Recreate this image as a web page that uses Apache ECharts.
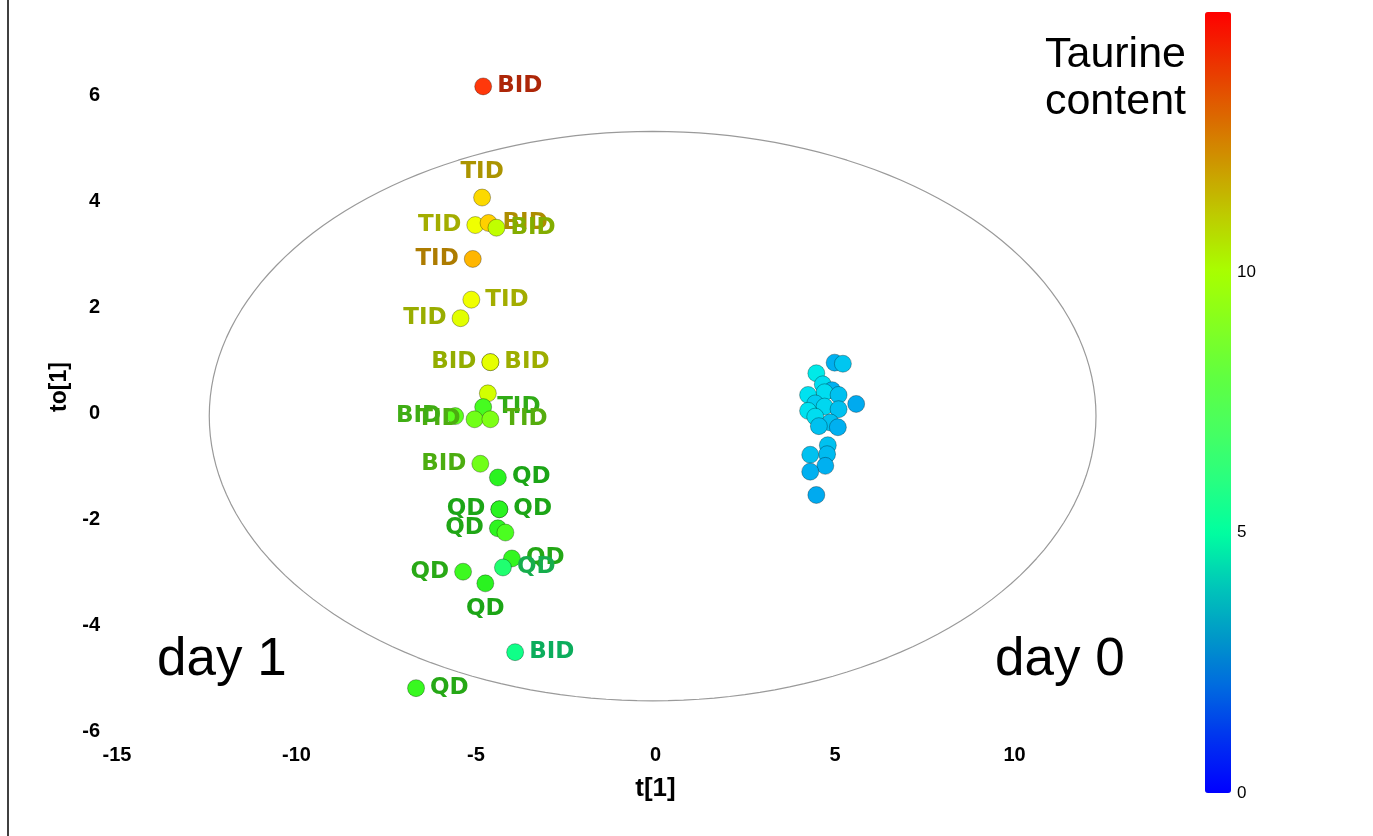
<!DOCTYPE html>
<html>
<head>
<meta charset="utf-8">
<script src="https://cdn.jsdelivr.net/npm/echarts@6/dist/echarts.min.js"></script>
<style>
html,body{margin:0;padding:0;background:#fff;}
#chart{width:1373px;height:836px;}
</style>
</head>
<body>
<div id="chart"></div>
<script>
// ---- data ----
const tX = [-4.80, -4.83, -5.02, -4.65, -4.43, -5.09, -5.13, -5.43, -4.60, -4.60,
  -4.67, -4.80, -5.04, -4.60, -5.58, -4.88, -4.39, -4.35, -4.35, -4.39,
  -4.18, -4.00, -4.25, -5.36, -4.74, -3.91, -6.67,
  4.99, 5.22, 4.48, 4.66, 4.92, 4.71, 4.25, 5.10, 5.59, 4.45,
  4.71, 5.10, 4.25, 4.45, 4.87, 5.08, 4.55, 4.80, 4.78, 4.31,
  4.73, 4.31, 4.48];
const toY = [6.18, 4.08, 3.56, 3.60, 3.51, 2.92, 2.15, 1.80, 0.97, 0.97,
  0.38, 0.12, -0.11, -0.11, -0.05, -0.95, -1.21, -1.81, -1.81, -2.17,
  -2.25, -2.74, -2.91, -2.99, -3.21, -4.51, -5.19,
  0.96, 0.94, 0.76, 0.55, 0.44, 0.40, 0.35, 0.35, 0.18, 0.19,
  0.13, 0.08, 0.05, -0.06, -0.17, -0.26, -0.24, -0.60, -0.77, -0.78,
  -0.99, -1.10, -1.54];
const taurine = [14.3, 11.8, 11.0, 12.0, 10.0, 12.4, 11.0, 10.7, 10.5, 10.8,
  10.4, 7.8, 8.5, 8.7, 8.2, 8.5, 7.2, 7.2, 7.2, 7.3,
  7.9, 7.4, 6.0, 7.6, 7.2, 5.5, 7.5,
  3.0, 3.4, 4.1, 3.8, 3.0, 3.8, 3.9, 3.3, 2.9, 3.5,
  3.7, 3.3, 3.9, 3.8, 3.3, 3.0, 3.3, 3.3, 3.2, 3.3,
  3.0, 3.0, 2.9];
const sampleLabels = ['BID', 'TID', 'TID', 'BID', 'BID', 'TID', 'TID', 'TID', 'BID', 'BID',
  '', 'TID', 'TID', 'TID', 'BID', 'BID', 'QD', 'QD', 'QD', 'QD',
  '', 'QD', 'QD', 'QD', 'QD', 'BID', 'QD'];
// label placement (style)
const labelSide = ['right', 'top', 'left', 'right', 'right', 'left', 'right', 'left', 'left', 'right',
  'right', 'right', 'left', 'right', 'left', 'left', 'right', 'left', 'right', 'left',
  'right', 'right', 'right', 'left', 'bottom', 'right', 'right'];
const xTicks = { min: -15, max: 15, interval: 5 };
const yTicks = { min: -6, max: 7, interval: 2 };
const colorbarTicks = { min: 0, max: 15, interval: 5 };
const ellipseAxes = [12.35, 5.38];
const ellipseCenter = [-0.08, -0.05];

// ---- styles ----
const pointRamp = ['#0000ff', '#0040f0', '#0078e8', '#00b0f0', '#00e8f0', '#00ffa0', '#20ff70', '#20f020',
  '#50ff20', '#90ff10', '#c0ff00', '#f0ff00', '#ffd000', '#ff9000', '#ff5010', '#ff0000'];
const barRamp = ['#0000ff', '#0030f0', '#0068e0', '#0098c8', '#00c8b8', '#00ffa0', '#28ff80', '#48ff60',
  '#60ff40', '#84ff20', '#a8ff00', '#bcd000', '#cc9c00', '#dc6800', '#ec3400', '#ff0000'];

function hexToRgb(h) { return [parseInt(h.substr(1,2),16), parseInt(h.substr(3,2),16), parseInt(h.substr(5,2),16)]; }
function rampColor(v, ramp, lo, hi, k) {
  const p = Math.max(0, Math.min(1, (v - lo) / (hi - lo))) * (ramp.length - 1);
  const i = Math.min(ramp.length - 2, Math.floor(p)), f = p - i;
  const a = hexToRgb(ramp[i]), b = hexToRgb(ramp[i + 1]);
  const c = a.map((x, j) => Math.round((x + (b[j] - x) * f) * k));
  return 'rgb(' + c.join(',') + ')';
}

const scatterData = tX.map((x, i) => {
  const lab = sampleLabels[i] || '';
  const item = { value: [x, toY[i], taurine[i]] };
  if (lab) {
    item.label = {
      show: true, formatter: lab, position: labelSide[i], distance: 5,
      color: rampColor(taurine[i], pointRamp, 0, 15, 0.68)
    };
  }
  return item;
});

const ellipse = [];
for (let d = 0; d <= 360; d += 2) {
  const r = d * Math.PI / 180;
  ellipse.push([ellipseCenter[0] + ellipseAxes[0] * Math.cos(r), ellipseCenter[1] + ellipseAxes[1] * Math.sin(r)]);
}

const chart = echarts.init(document.getElementById('chart'), null, { renderer: 'canvas' });
const tickFont = { fontFamily: '"Liberation Sans", Arial, sans-serif', fontWeight: 'bold', fontSize: 20, color: '#000' };
chart.setOption({
  animation: false,
  backgroundColor: '#fff',
  grid: [
    { left: 117, right: 179, top: 43, bottom: 105 },
    { left: 1205, top: 12, width: 26, height: 781 }
  ],
  xAxis: [
    { type: 'value', gridIndex: 0, min: xTicks.min, max: xTicks.max, interval: xTicks.interval,
      axisLine: { show: false }, axisTick: { show: false }, splitLine: { show: false },
      axisLabel: Object.assign({ margin: 14, showMaxLabel: false }, tickFont),
      name: 't[1]', nameLocation: 'middle', nameGap: 45,
      nameTextStyle: { fontFamily: '"Liberation Sans", Arial, sans-serif', fontWeight: 'bold', fontSize: 26, color: '#000' } },
    { type: 'value', gridIndex: 1, show: false }
  ],
  yAxis: [
    { type: 'value', gridIndex: 0, min: yTicks.min, max: yTicks.max, interval: yTicks.interval,
      axisLine: { show: false }, axisTick: { show: false }, splitLine: { show: false },
      axisLabel: Object.assign({ margin: 17, showMaxLabel: false }, tickFont),
      name: 'to[1]', nameLocation: 'middle', nameGap: 44, nameRotate: 90,
      nameTextStyle: { fontFamily: '"Liberation Sans", Arial, sans-serif', fontWeight: 'bold', fontSize: 23, color: '#000' } },
    { type: 'value', gridIndex: 1, position: 'right', min: colorbarTicks.min, max: colorbarTicks.max, interval: colorbarTicks.interval,
      axisLine: { show: false }, axisTick: { show: false }, splitLine: { show: false },
      axisLabel: { margin: 6, showMaxLabel: false, fontFamily: '"Liberation Sans", Arial, sans-serif', fontSize: 17, color: '#000' } }
  ],
  visualMap: [
    { type: 'continuous', show: false, min: 0, max: 15, dimension: 2, seriesIndex: 0,
      inRange: { color: pointRamp } },
    { type: 'continuous', show: true, min: 0, max: 15, seriesIndex: 2, calculable: false, hoverLink: false,
      left: 1205, top: 12, padding: 0, itemWidth: 26, itemHeight: 781, text: null, showLabel: false,
      inRange: { color: barRamp } }
  ],
  series: [
    { type: 'scatter', xAxisIndex: 0, yAxisIndex: 0, symbolSize: 17, z: 3,
      itemStyle: { borderColor: 'rgba(0,0,0,0.3)', borderWidth: 1, opacity: 1 },
      label: { show: false, fontFamily: '"DejaVu Sans", sans-serif', fontWeight: 'bold', fontSize: 23 },
      labelLayout: { hideOverlap: false },
      data: scatterData, silent: true },
    { type: 'line', xAxisIndex: 0, yAxisIndex: 0, data: ellipse, showSymbol: false, silent: true, z: 1,
      lineStyle: { color: '#9a9a9a', width: 1.2 } },
    { type: 'scatter', xAxisIndex: 1, yAxisIndex: 1, data: [] }
  ],
  graphic: [
    { type: 'line', shape: { x1: 8, y1: 0, x2: 8, y2: 836 }, style: { stroke: '#000', lineWidth: 1.5 } },
    { type: 'text', x: 157, y: 660, style: { text: 'day 1', font: '53px "Liberation Sans", Arial, sans-serif', fill: '#000', textVerticalAlign: 'middle' } },
    { type: 'text', x: 995, y: 660, style: { text: 'day 0', font: '53px "Liberation Sans", Arial, sans-serif', fill: '#000', textVerticalAlign: 'middle' } },
    { type: 'text', x: 1186, y: 32, style: { text: 'Taurine\ncontent', font: '43px "Liberation Sans", Arial, sans-serif', fill: '#000', textAlign: 'right', lineHeight: 47 } }
  ]
});
</script>
</body>
</html>
